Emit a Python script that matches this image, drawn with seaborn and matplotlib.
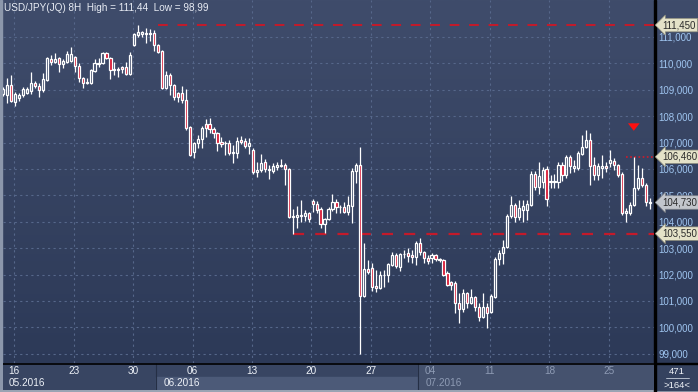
import numpy as np
import matplotlib
matplotlib.use("Agg")
import matplotlib.pyplot as plt
import matplotlib.transforms as mtransforms
from matplotlib.colors import LinearSegmentedColormap
from matplotlib.patches import Rectangle
import seaborn as sns

# USD/JPY 8H candles, 13.05.2016 - 27.07.2016 (index = bar number)
opens = [108.85, 108.80, 109.18, 108.54, 108.69, 108.80, 108.88, 108.95, 109.26, 109.14,
         108.99, 109.37, 110.17, 110.05, 110.20, 109.98, 110.05, 110.09, 110.24, 109.90,
         109.45, 109.26, 109.26, 109.71, 109.98, 110.02, 110.39, 110.20, 109.75, 109.75,
         109.86, 109.86, 109.60, 110.70, 111.08, 111.11, 111.11, 111.13, 111.15, 110.70,
         110.47, 109.07, 109.56, 109.18, 108.88, 108.88, 108.61, 107.59, 106.64, 106.98,
         107.14, 107.70, 107.70, 107.52, 107.36, 107.02, 106.97, 106.98, 106.61, 106.61,
         107.10, 107.06, 106.87, 106.72, 105.89, 105.96, 106.27, 105.96, 105.92, 106.08,
         106.11, 106.15, 106.00, 104.18, 104.18, 104.22, 104.22, 104.33, 104.79, 104.67,
         104.48, 103.92, 104.11, 104.48, 104.75, 104.56, 104.56, 104.37, 104.60, 105.92,
         106.15, 101.19, 102.21, 102.25, 101.57, 101.49, 101.98, 101.98, 102.36, 102.74,
         102.29, 102.76, 102.82, 102.74, 102.67, 103.20, 102.86, 102.63, 102.63, 102.74,
         102.59, 102.55, 102.06, 101.72, 101.68, 100.92, 100.70, 101.30, 100.92, 101.15,
         100.77, 100.39, 100.77, 100.58, 101.15, 102.59, 102.82, 103.05, 104.22, 104.64,
         104.18, 104.45, 104.45, 104.64, 105.81, 105.32, 105.50, 106.00, 105.51, 105.51,
         105.51, 106.15, 105.77, 106.45, 106.04, 106.04, 106.57, 106.83, 107.10, 106.15,
         105.77, 106.04, 106.11, 106.23, 106.30, 106.15, 105.81, 104.33, 104.33, 104.64,
         105.28, 105.66, 105.39, 104.70]
highs = [109.10, 109.45, 109.56, 108.92, 108.88, 109.11, 109.11, 109.67, 109.33, 109.26,
         109.64, 110.24, 110.32, 110.39, 110.24, 110.17, 110.47, 110.62, 110.28, 110.02,
         109.48, 109.45, 109.79, 110.17, 110.20, 110.43, 110.43, 110.24, 110.05, 109.86,
         109.90, 110.05, 110.43, 111.15, 111.44, 111.22, 111.34, 111.30, 111.27, 110.73,
         110.51, 109.71, 109.64, 109.22, 108.92, 109.14, 109.03, 107.63, 107.02, 107.29,
         107.63, 107.89, 107.93, 107.59, 107.40, 107.21, 107.06, 107.10, 106.91, 107.21,
         107.25, 107.17, 107.17, 106.80, 106.27, 106.57, 106.38, 106.15, 106.23, 106.27,
         106.38, 106.23, 106.04, 104.48, 104.60, 104.83, 104.45, 104.37, 104.86, 104.79,
         104.56, 104.14, 104.56, 105.05, 104.86, 104.64, 104.75, 104.98, 106.04, 106.23,
         106.83, 103.20, 102.55, 102.44, 102.17, 102.14, 102.17, 102.44, 102.86, 102.82,
         102.82, 102.93, 103.00, 102.93, 103.27, 103.38, 102.89, 102.74, 102.82, 102.78,
         102.63, 102.59, 102.14, 101.76, 101.76, 101.30, 101.45, 101.34, 101.45, 101.19,
         100.92, 101.30, 100.92, 101.26, 102.67, 102.93, 103.31, 104.30, 104.98, 104.71,
         104.83, 104.83, 104.83, 105.92, 105.92, 106.27, 106.08, 106.11, 105.77, 105.81,
         106.27, 106.27, 106.53, 106.53, 106.34, 106.68, 107.29, 107.48, 107.36, 106.45,
         106.23, 106.53, 106.27, 106.72, 106.42, 106.19, 105.89, 104.52, 104.75, 106.46,
         106.15, 106.04, 105.47, 104.90]
lows = [108.78, 108.50, 108.54, 108.39, 108.58, 108.73, 108.84, 108.84, 109.07, 108.73,
        108.92, 109.33, 109.94, 110.02, 109.67, 109.83, 110.02, 110.05, 109.67, 109.30,
        109.07, 109.22, 109.22, 109.67, 109.86, 109.98, 110.17, 109.41, 109.56, 109.48,
        109.64, 109.56, 109.56, 110.66, 111.00, 111.00, 110.77, 110.85, 110.47, 110.39,
        109.03, 109.03, 108.80, 108.61, 108.54, 108.50, 107.48, 106.49, 106.42, 106.80,
        106.80, 107.21, 107.36, 107.17, 106.68, 106.83, 106.53, 106.53, 106.23, 106.42,
        106.95, 106.80, 106.57, 105.81, 105.70, 105.89, 105.89, 105.62, 105.85, 105.96,
        106.08, 105.39, 104.14, 103.55, 103.77, 103.99, 104.03, 103.99, 104.37, 104.33,
        103.77, 103.58, 104.07, 104.41, 104.33, 104.33, 104.33, 104.26, 103.95, 105.47,
        98.99, 101.15, 102.02, 101.38, 101.34, 101.45, 101.53, 101.72, 102.33, 102.25,
        102.14, 102.63, 102.48, 102.44, 102.36, 102.74, 102.44, 102.40, 102.44, 102.52,
        102.48, 101.95, 101.57, 101.42, 100.55, 100.17, 100.58, 100.73, 100.88, 100.62,
        100.24, 100.36, 99.98, 100.55, 101.10, 102.36, 102.40, 103.01, 104.14, 103.99,
        104.07, 103.99, 104.07, 104.60, 105.20, 105.05, 105.28, 104.60, 105.28, 105.28,
        105.28, 105.55, 105.66, 105.85, 105.89, 105.96, 106.53, 106.80, 105.39, 105.58,
        105.58, 105.66, 105.89, 106.08, 105.96, 105.70, 104.26, 103.99, 104.26, 104.60,
        105.20, 105.32, 104.60, 104.48]
closes = [109.02, 109.18, 108.58, 108.84, 108.80, 109.03, 109.03, 109.26, 109.14, 108.99,
          109.41, 110.20, 110.05, 110.17, 109.98, 110.09, 110.36, 110.36, 109.90, 109.45,
          109.26, 109.30, 109.75, 110.02, 110.02, 110.39, 110.20, 109.75, 109.79, 109.79,
          109.79, 109.60, 110.32, 111.11, 111.19, 111.19, 111.15, 111.15, 110.70, 110.43,
          109.07, 109.56, 109.18, 108.73, 108.73, 108.61, 107.55, 106.53, 106.98, 107.14,
          107.55, 107.55, 107.52, 107.36, 106.98, 106.95, 106.98, 106.61, 106.63, 107.06,
          107.02, 106.87, 106.98, 105.89, 105.96, 106.23, 106.00, 105.98, 106.11, 106.15,
          106.15, 106.00, 104.18, 104.22, 104.26, 104.26, 104.33, 104.11, 104.67, 104.45,
          103.92, 104.11, 104.48, 104.75, 104.56, 104.57, 104.37, 104.64, 105.92, 106.15,
          101.19, 102.21, 102.10, 101.53, 101.49, 101.98, 102.00, 102.40, 102.74, 102.33,
          102.78, 102.78, 102.70, 102.67, 103.20, 102.86, 102.63, 102.52, 102.74, 102.59,
          102.57, 101.98, 101.61, 101.61, 100.92, 100.70, 101.30, 100.92, 101.15, 100.77,
          100.39, 100.77, 100.55, 101.19, 102.59, 102.82, 103.05, 104.22, 104.64, 104.18,
          104.52, 104.60, 104.67, 105.81, 105.32, 105.73, 105.96, 104.86, 105.55, 105.55,
          106.15, 105.77, 106.45, 106.11, 106.11, 106.61, 106.83, 107.10, 106.11, 105.77,
          106.11, 106.11, 106.04, 106.34, 106.15, 105.77, 104.33, 104.41, 104.64, 105.28,
          105.66, 105.39, 104.75, 104.73]

# first bar of every Monday and its day label
monday_bars = [3, 18, 33, 48, 63, 78, 93, 108, 123, 138, 153]
day_labels = ["16", "23", "30", "06", "13", "20", "27", "04", "11", "18", "25"]
month_labels = ["05.2016", "06.2016", "07.2016"]
month_first_bar = [-0.5, 39, 105]

level_values = [111.45, 106.46, 103.55]
level_labels = ["111,450", "106,460", "103,550"]
level_first_bar = [39, 157, 73]
last_price = 104.73
last_label = "104,730"
signal_bar, signal_price = 159, 107.34

title_txt = "USD/JPY(JQ) 8H  High = 111,44  Low = 98,99"
bars_total, bars_shown = "471", ">164<"

sns.set_theme(style="dark")
plt.rcParams["font.family"] = ["Liberation Sans", "DejaVu Sans"]

W, H = 698, 392
fig = plt.figure(figsize=(W / 100, H / 100), dpi=100)

# whole-figure background gradient (pixel coords, origin bottom-left)
bg = fig.add_axes([0, 0, 1, 1])
cmap = LinearSegmentedColormap.from_list("bgc", ["#3f4c6b", "#2b3856"])
bg.imshow(np.linspace(0, 1, 256)[:, None], aspect="auto", cmap=cmap,
          extent=[0, W, 0, H])
bg.set_xlim(0, W)
bg.set_ylim(0, H)
bg.axis("off")
bg.add_patch(Rectangle((0, 0), 2, H, color="#8c97ab"))
bg.add_patch(Rectangle((0, 0), W, 2, color="#9aa3b3"))
bg.add_patch(Rectangle((655.5, 2), W - 655.5, 27, color="#35425f"))
bg.add_patch(Rectangle((654, 0), 1.5, H, color="black"))
bg.add_patch(Rectangle((655.5, 28), W - 655.5, 1.2, color="black"))
bg.plot([666, 689], [H - 378, H - 378], color="#c8d0dc", lw=0.6)
bg.text(677, H - 371, bars_total, color="#f0f3f8", fontsize=6.8, ha="center", va="center")
bg.text(677, H - 385, bars_shown, color="#f0f3f8", fontsize=6.8, ha="center", va="center")

xmin, xmax = -0.1, 164.1
ymin, ymax = 98.65, 112.40

ax = fig.add_axes([3 / W, 29 / H, 651 / W, 363 / H])
ax.set_facecolor("none")
ax.set_xlim(xmin, xmax)
ax.set_ylim(ymin, ymax)

# grid
grid_kw = dict(color="#56678a", lw=0.8, dashes=(2, 3), zorder=1)
for v in range(99, 112):
    ax.axhline(v, **grid_kw)
for b in monday_bars:
    ax.axvline(b - 0.3, **grid_kw)

# candles
idx = np.arange(len(opens))
o = np.array(opens)
c = np.array(closes)
hi = np.array(highs)
lo = np.array(lows)
top = np.maximum(o, c)
bot = np.minimum(o, c)
ax.vlines(idx, top, hi, color="white", lw=0.9, zorder=3)
ax.vlines(idx, lo, bot, color="white", lw=0.9, zorder=3)
up = c >= o
ax.bar(idx[up], (c - o)[up], bottom=o[up], width=0.55, facecolor="none",
       edgecolor="white", linewidth=0.9, zorder=4)
ax.bar(idx[~up], (o - c)[~up], bottom=c[~up], width=0.55, facecolor="#d6122e",
       edgecolor="white", linewidth=0.9, zorder=4)

# level lines
ax.hlines(level_values[0], level_first_bar[0], xmax, color="#c41a2a", lw=1.4,
          linestyles=(0, (5, 5)), zorder=2)
ax.hlines(level_values[2], level_first_bar[2], xmax, color="#c41a2a", lw=1.6,
          linestyles=(0, (5, 5)), zorder=2)
ax.hlines(level_values[1], level_first_bar[1], xmax, color="#d01a2a", lw=1.2,
          linestyles=(0, (1, 1.5)), zorder=2)

# sell signal arrow
ax.annotate("", xy=(signal_bar, signal_price), xytext=(signal_bar, signal_price + 0.42),
            arrowprops=dict(arrowstyle="simple,head_width=0.7,head_length=0.45,tail_width=0.32",
                            fc="#ff1010", ec="none"), zorder=5)

# price axis on the right
ax.yaxis.tick_right()
ax.set_yticks(range(99, 112))
ax.set_yticklabels([f"{v},000" for v in range(99, 112)])
ax.tick_params(axis="y", length=0, pad=3, labelsize=7.0, colors="#9fc5f0")
ax.set_xticks([])
for s in ax.spines.values():
    s.set_visible(False)

trans = mtransforms.blended_transform_factory(ax.transAxes, ax.transData)
box_style = "larrow,pad=0.18"
for val, lab in zip(level_values, level_labels):
    ax.text(1.013, val, lab, transform=trans, fontsize=7.0, color="#2a2a2a",
            va="center", ha="left", zorder=6,
            bbox=dict(boxstyle=box_style, fc="#e4e2c8", ec="#8a8a7a", lw=0.5))
ax.text(1.013, last_price, last_label, transform=trans,
        fontsize=7.0, color="#2a2a2a", va="center", ha="left", zorder=6,
        bbox=dict(boxstyle=box_style, fc="#c2c6cc", ec="#80848a", lw=0.5))

# title
fig.text(4 / W, 1 - 8 / H, title_txt, fontsize=7.2, color="#e8ecf4", va="center")

# time axis strip
tx = fig.add_axes([3 / W, 2 / H, 651 / W, 27 / H])
tx.set_xlim(xmin, xmax)
tx.set_ylim(0, 27)
tx.axis("off")
tx.add_patch(Rectangle((xmin, 0), xmax - xmin, 27, color="#384562", zorder=0))
tx.add_patch(Rectangle((month_first_bar[1] - 0.5, 0), month_first_bar[2] - month_first_bar[1], 13,
                       color="#4c5a78", zorder=1))
tx.add_patch(Rectangle((month_first_bar[2] - 0.5, 0), xmax - month_first_bar[2] + 0.5, 27,
                       color="#45526e", zorder=1))
tx.vlines([month_first_bar[1] - 0.5, month_first_bar[2] - 0.5], 0, 27, color="#252f45", lw=0.8, zorder=2)
tx.axhline(26.5, color="black", lw=1.2, zorder=3)
for b, lab in zip(monday_bars, day_labels):
    col = "#8e9bb4" if b >= month_first_bar[2] else "#eef2f8"
    tx.text(b - 0.3, 19.5, lab, fontsize=7.2, color=col, ha="center", va="center", zorder=4)
for m, lab in zip(month_first_bar, month_labels):
    col = "#8e9bb4" if m >= month_first_bar[2] else "#eef2f8"
    tx.text(max(m, xmin) + 1.5, 6.5, lab, fontsize=7.2, color=col, ha="left", va="center", zorder=4)

fig.savefig("out.png", dpi=100)
